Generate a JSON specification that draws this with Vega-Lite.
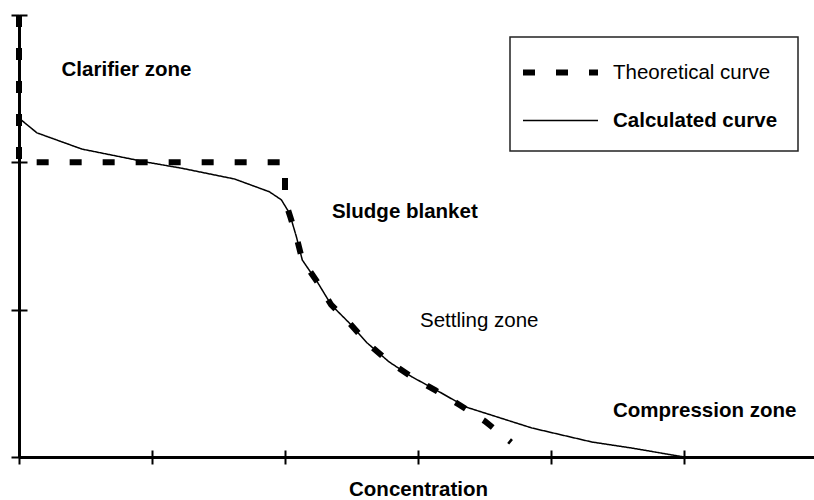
{
  "$schema": "https://vega.github.io/schema/vega-lite/v6.json",
  "width": 798,
  "height": 442,
  "autosize": {"type": "none"},
  "padding": {"left": 19, "top": 15, "right": 0, "bottom": 43},
  "background": "white",
  "config": {
    "view": {"stroke": null},
    "font": "Liberation Sans",
    "legend": {"strokeWidth": 1.5}
  },
  "datasets": {
    "curves": [
      {"series": "Theoretical curve", "i": 0, "c": 0, "h": 3},
      {"series": "Theoretical curve", "i": 1, "c": 0, "h": 2},
      {"series": "Theoretical curve", "i": 2, "c": 2, "h": 2},
      {"series": "Theoretical curve", "i": 3, "c": 2, "h": 1.74},
      {"series": "Theoretical curve", "i": 4, "c": 2.04, "h": 1.63},
      {"series": "Theoretical curve", "i": 5, "c": 2.086, "h": 1.494},
      {"series": "Theoretical curve", "i": 6, "c": 2.13, "h": 1.337},
      {"series": "Theoretical curve", "i": 7, "c": 2.243, "h": 1.188},
      {"series": "Theoretical curve", "i": 8, "c": 2.348, "h": 1.032},
      {"series": "Theoretical curve", "i": 9, "c": 2.483, "h": 0.91},
      {"series": "Theoretical curve", "i": 10, "c": 2.618, "h": 0.774},
      {"series": "Theoretical curve", "i": 11, "c": 2.783, "h": 0.645},
      {"series": "Theoretical curve", "i": 12, "c": 2.956, "h": 0.543},
      {"series": "Theoretical curve", "i": 13, "c": 3.136, "h": 0.45},
      {"series": "Theoretical curve", "i": 14, "c": 3.31, "h": 0.355},
      {"series": "Theoretical curve", "i": 15, "c": 3.5, "h": 0.245},
      {"series": "Theoretical curve", "i": 16, "c": 3.7, "h": 0.1},
      {"series": "Calculated curve", "i": 0, "c": 0, "h": 2.3},
      {"series": "Calculated curve", "i": 1, "c": 0.135, "h": 2.2},
      {"series": "Calculated curve", "i": 2, "c": 0.473, "h": 2.09},
      {"series": "Calculated curve", "i": 3, "c": 0.968, "h": 2.0},
      {"series": "Calculated curve", "i": 4, "c": 1.223, "h": 1.96},
      {"series": "Calculated curve", "i": 5, "c": 1.62, "h": 1.887},
      {"series": "Calculated curve", "i": 6, "c": 1.883, "h": 1.8},
      {"series": "Calculated curve", "i": 7, "c": 1.973, "h": 1.745},
      {"series": "Calculated curve", "i": 8, "c": 2.033, "h": 1.656},
      {"series": "Calculated curve", "i": 9, "c": 2.086, "h": 1.494},
      {"series": "Calculated curve", "i": 10, "c": 2.13, "h": 1.337},
      {"series": "Calculated curve", "i": 11, "c": 2.243, "h": 1.188},
      {"series": "Calculated curve", "i": 12, "c": 2.348, "h": 1.032},
      {"series": "Calculated curve", "i": 13, "c": 2.483, "h": 0.91},
      {"series": "Calculated curve", "i": 14, "c": 2.618, "h": 0.774},
      {"series": "Calculated curve", "i": 15, "c": 2.783, "h": 0.645},
      {"series": "Calculated curve", "i": 16, "c": 2.956, "h": 0.543},
      {"series": "Calculated curve", "i": 17, "c": 3.136, "h": 0.455},
      {"series": "Calculated curve", "i": 18, "c": 3.361, "h": 0.339},
      {"series": "Calculated curve", "i": 19, "c": 3.856, "h": 0.197},
      {"series": "Calculated curve", "i": 20, "c": 4.306, "h": 0.102},
      {"series": "Calculated curve", "i": 21, "c": 4.606, "h": 0.061},
      {"series": "Calculated curve", "i": 22, "c": 5.0, "h": 0}
    ],
    "boldLabels": [
      {"label": "Clarifier zone", "c": 0.32, "h": 2.586},
      {"label": "Sludge blanket", "c": 2.353, "h": 1.622},
      {"label": "Compression zone", "c": 4.466, "h": 0.2715}
    ],
    "plainLabels": [
      {"label": "Settling zone", "c": 3.015, "h": 0.882}
    ]
  },
  "layer": [
    {
      "data": {"name": "curves"},
      "mark": {"type": "line", "color": "black", "strokeCap": "butt", "strokeJoin": "round"},
      "encoding": {
        "x": {
          "field": "c", "type": "quantitative",
          "scale": {"domain": [0, 6], "nice": false, "zero": false},
          "axis": {
            "orient": "bottom", "values": [0, 1, 2, 3, 4, 5], "labels": false,
            "tickSize": 7, "tickWidth": 2, "tickColor": "black",
            "domainColor": "black", "domainWidth": 3, "grid": false,
            "title": "Concentration", "titleFont": "Liberation Sans", "titleFontSize": 20.5,
            "titleFontWeight": "bold", "titleColor": "black", "titlePadding": 14
          }
        },
        "y": {
          "field": "h", "type": "quantitative",
          "scale": {"domain": [0, 3], "nice": false},
          "axis": {
            "orient": "left", "values": [0, 1, 2, 3], "labels": false,
            "tickSize": 8, "tickWidth": 2, "tickColor": "black",
            "domainColor": "black", "domainWidth": 3, "grid": false, "title": null
          }
        },
        "order": {"field": "i", "type": "quantitative"},
        "strokeDash": {
          "field": "series", "type": "nominal",
          "scale": {"domain": ["Theoretical curve", "Calculated curve"], "range": [[12, 21], [1, 0]]},
          "legend": {
            "title": null, "orient": "none", "legendX": 491, "legendY": 22,
            "symbolType": "M-1.8,0H4.2", "symbolSize": 625, "labelOffset": 52,
            "labelFontSize": 20.5, "labelFont": "Liberation Sans", "labelColor": "black",
            "padding": 20, "rowPadding": 22, "strokeColor": "#222",
            "symbolStrokeColor": "black", "labelLimit": 300,
            "encode": {"labels": {"update": {"fontWeight": {"signal": "datum.label === 'Calculated curve' ? 'bold' : 'normal'"}}}}
          }
        },
        "strokeWidth": {
          "field": "series", "type": "nominal",
          "scale": {"domain": ["Theoretical curve", "Calculated curve"], "range": [6, 1.5]},
          "legend": {
            "title": null, "orient": "none", "legendX": 491, "legendY": 22,
            "symbolType": "M-1.8,0H4.2", "symbolSize": 625, "labelOffset": 52,
            "labelFontSize": 20.5, "labelFont": "Liberation Sans", "labelColor": "black",
            "padding": 20, "rowPadding": 22, "strokeColor": "#222",
            "symbolStrokeColor": "black", "labelLimit": 300,
            "encode": {"labels": {"update": {"fontWeight": {"signal": "datum.label === 'Calculated curve' ? 'bold' : 'normal'"}}}}
          }
        }
      }
    },
    {
      "data": {"name": "boldLabels"},
      "mark": {"type": "text", "align": "left", "baseline": "alphabetic", "fontSize": 20.5, "font": "Liberation Sans", "fontWeight": "bold", "color": "black"},
      "encoding": {
        "x": {
          "field": "c", "type": "quantitative",
          "axis": {
            "orient": "bottom", "values": [0, 1, 2, 3, 4, 5], "labels": false,
            "tickSize": -7, "tickWidth": 2, "tickColor": "black",
            "domain": false, "grid": false, "title": null
          }
        },
        "y": {
          "field": "h", "type": "quantitative",
          "axis": {
            "orient": "left", "values": [0, 1, 2, 3], "labels": false,
            "tickSize": -8, "tickWidth": 2, "tickColor": "black",
            "domain": false, "grid": false, "title": null
          }
        },
        "text": {"field": "label"}
      }
    },
    {
      "data": {"name": "plainLabels"},
      "mark": {"type": "text", "align": "left", "baseline": "alphabetic", "fontSize": 20.5, "font": "Liberation Sans", "fontWeight": "normal", "color": "black"},
      "encoding": {
        "x": {"field": "c", "type": "quantitative", "axis": null},
        "y": {"field": "h", "type": "quantitative", "axis": null},
        "text": {"field": "label"}
      }
    }
  ],
  "resolve": {"axis": {"x": "independent", "y": "independent"}}
}
